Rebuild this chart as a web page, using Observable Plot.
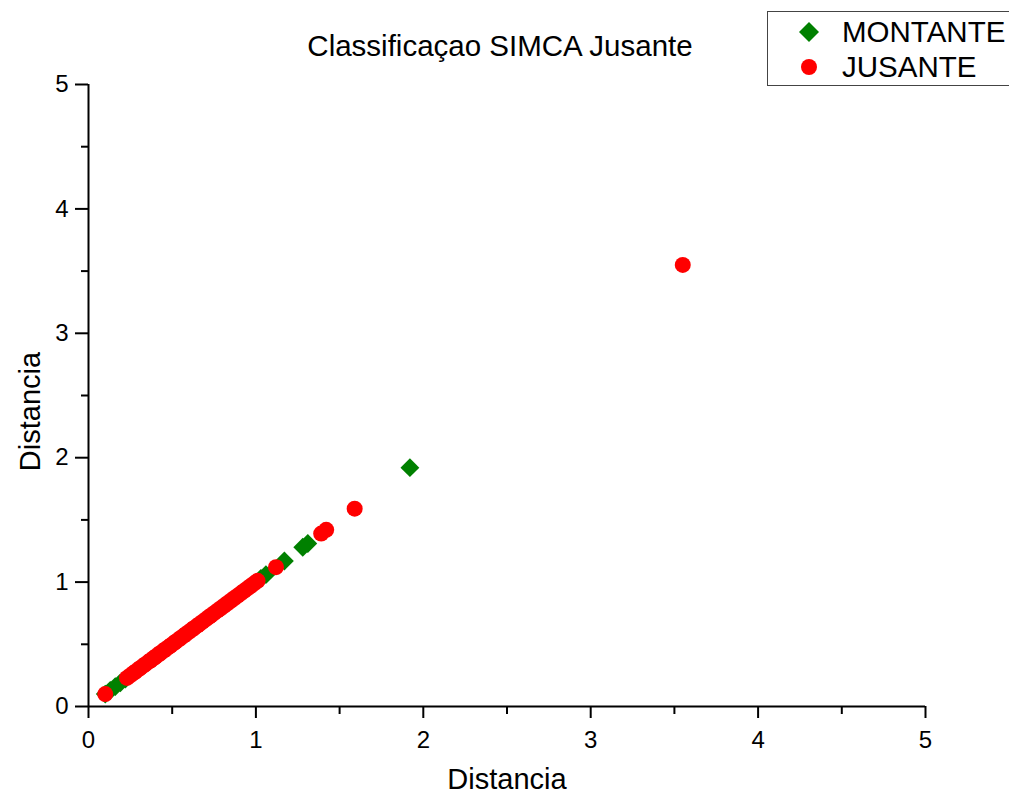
<!DOCTYPE html>
<html>
<head>
<meta charset="utf-8">
<script src="https://cdn.jsdelivr.net/npm/d3@7"></script>
<script src="https://cdn.jsdelivr.net/npm/@observablehq/plot@0.6"></script>
<style>
  html, body { margin: 0; padding: 0; background: #fff; }
  #wrap { position: relative; width: 1009px; height: 794px; overflow: hidden; font-family: "Liberation Sans", Arial, sans-serif; }
  #legend { position: absolute; left: 767px; top: 11px; width: 260px; height: 73px; border: 1.5px solid #444; background: #fff; }
  .row { position: absolute; left: 0; display: flex; align-items: center; font-size: 29.5px; line-height: 34px; color: #000; }
  .row svg { margin-left: 30px; margin-right: 22px; }
</style>
</head>
<body>
<div id="wrap">
  <div id="chart"></div>
  <div id="legend">
    <div class="row" style="top: 3px;"><svg width="22" height="34" viewBox="-11 -17 22 34"><path d="M0,-10L10,0L0,10L-10,0Z" fill="#008000"/></svg><span>MONTANTE</span></div>
    <div class="row" style="top: 38px;"><svg width="22" height="34" viewBox="-11 -17 22 34"><circle r="8" fill="#ff0000"/></svg><span>JUSANTE</span></div>
  </div>
</div>
<script>
// SIMCA class distances for the two sampling sites
const montanteX = [0.10, 0.13, 0.16, 0.19, 0.22, 0.30, 0.40, 0.50, 0.60, 0.70, 0.80, 0.90, 0.95, 0.99, 1.03, 1.06, 1.17, 1.28, 1.31, 1.92];
const montanteY = [0.10, 0.13, 0.16, 0.19, 0.22, 0.30, 0.40, 0.50, 0.60, 0.70, 0.80, 0.90, 0.95, 0.99, 1.03, 1.06, 1.17, 1.28, 1.31, 1.92];

const jusanteX = [0.10, 0.23, 0.25, 0.27, 0.28, 0.30, 0.31, 0.33, 0.34, 0.36, 0.37, 0.39, 0.40, 0.42, 0.43, 0.45, 0.46, 0.48, 0.49,
  0.51, 0.52, 0.54, 0.55, 0.57, 0.58, 0.60, 0.62, 0.63, 0.65, 0.66, 0.68, 0.70, 0.72, 0.73, 0.75, 0.77, 0.79, 0.81, 0.83, 0.85,
  0.87, 0.89, 0.91, 0.93, 0.95, 0.97, 0.99, 1.01, 1.12, 1.39, 1.42, 1.59, 3.55];
const jusanteY = [0.10, 0.23, 0.25, 0.27, 0.28, 0.30, 0.31, 0.33, 0.34, 0.36, 0.37, 0.39, 0.40, 0.42, 0.43, 0.45, 0.46, 0.48, 0.49,
  0.51, 0.52, 0.54, 0.55, 0.57, 0.58, 0.60, 0.62, 0.63, 0.65, 0.66, 0.68, 0.70, 0.72, 0.73, 0.75, 0.77, 0.79, 0.81, 0.83, 0.85,
  0.87, 0.89, 0.91, 0.93, 0.95, 0.97, 0.99, 1.01, 1.12, 1.39, 1.42, 1.59, 3.55];

const majorTicks = [0, 1, 2, 3, 4, 5];
const minorTicks = [0.5, 1.5, 2.5, 3.5, 4.5];

const montante = montanteX.map((x, i) => ({x, y: montanteY[i]}));
const jusante = jusanteX.map((x, i) => ({x, y: jusanteY[i]}));

const chart = Plot.plot({
  width: 1009,
  height: 794,
  marginLeft: 88,
  marginRight: 84,
  marginTop: 84,
  marginBottom: 88,
  style: {fontFamily: "'Liberation Sans', Arial, sans-serif", background: "#fff", color: "#000"},
  x: {domain: [0, 5]},
  y: {domain: [0, 5]},
  marks: [
    // minor ticks (no labels)
    Plot.axisX({ticks: minorTicks, tickSize: 8, tickFormat: () => "", strokeWidth: 2, label: null}),
    Plot.axisY({ticks: minorTicks, tickSize: 7, tickFormat: () => "", strokeWidth: 2, label: null}),
    // major ticks with labels
    Plot.axisX({ticks: majorTicks, tickSize: 12, tickPadding: 12, tickFormat: d3.format("d"), fontSize: 24, strokeWidth: 2, label: null}),
    Plot.axisY({ticks: majorTicks, tickSize: 13, tickPadding: 7, tickFormat: d3.format("d"), fontSize: 24, strokeWidth: 2, label: null}),
    // axis lines
    Plot.ruleY([0], {stroke: "#000", strokeWidth: 2}),
    Plot.ruleX([0], {stroke: "#000", strokeWidth: 2}),
    // data
    Plot.dot(montante, {x: "x", y: "y", symbol: "diamond2", r: 8.5, fill: "#008000", stroke: "none"}),
    Plot.dot(jusante, {x: "x", y: "y", r: 8, fill: "#ff0000", stroke: "none"}),
    // title and axis titles
    Plot.text(["Classificaçao SIMCA Jusante"], {frameAnchor: "top", lineAnchor: "middle", dy: -38, dx: -7, fontSize: 29.5, fill: "#000"}),
    Plot.text(["Distancia"], {frameAnchor: "bottom", lineAnchor: "middle", dy: 73, fontSize: 29, fill: "#000"}),
    Plot.text(["Distancia"], {frameAnchor: "left", textAnchor: "middle", rotate: -90, lineAnchor: "middle", dx: -58, dy: 16, fontSize: 29, fill: "#000"})
  ]
});
document.getElementById("chart").appendChild(chart);
</script>
</body>
</html>
